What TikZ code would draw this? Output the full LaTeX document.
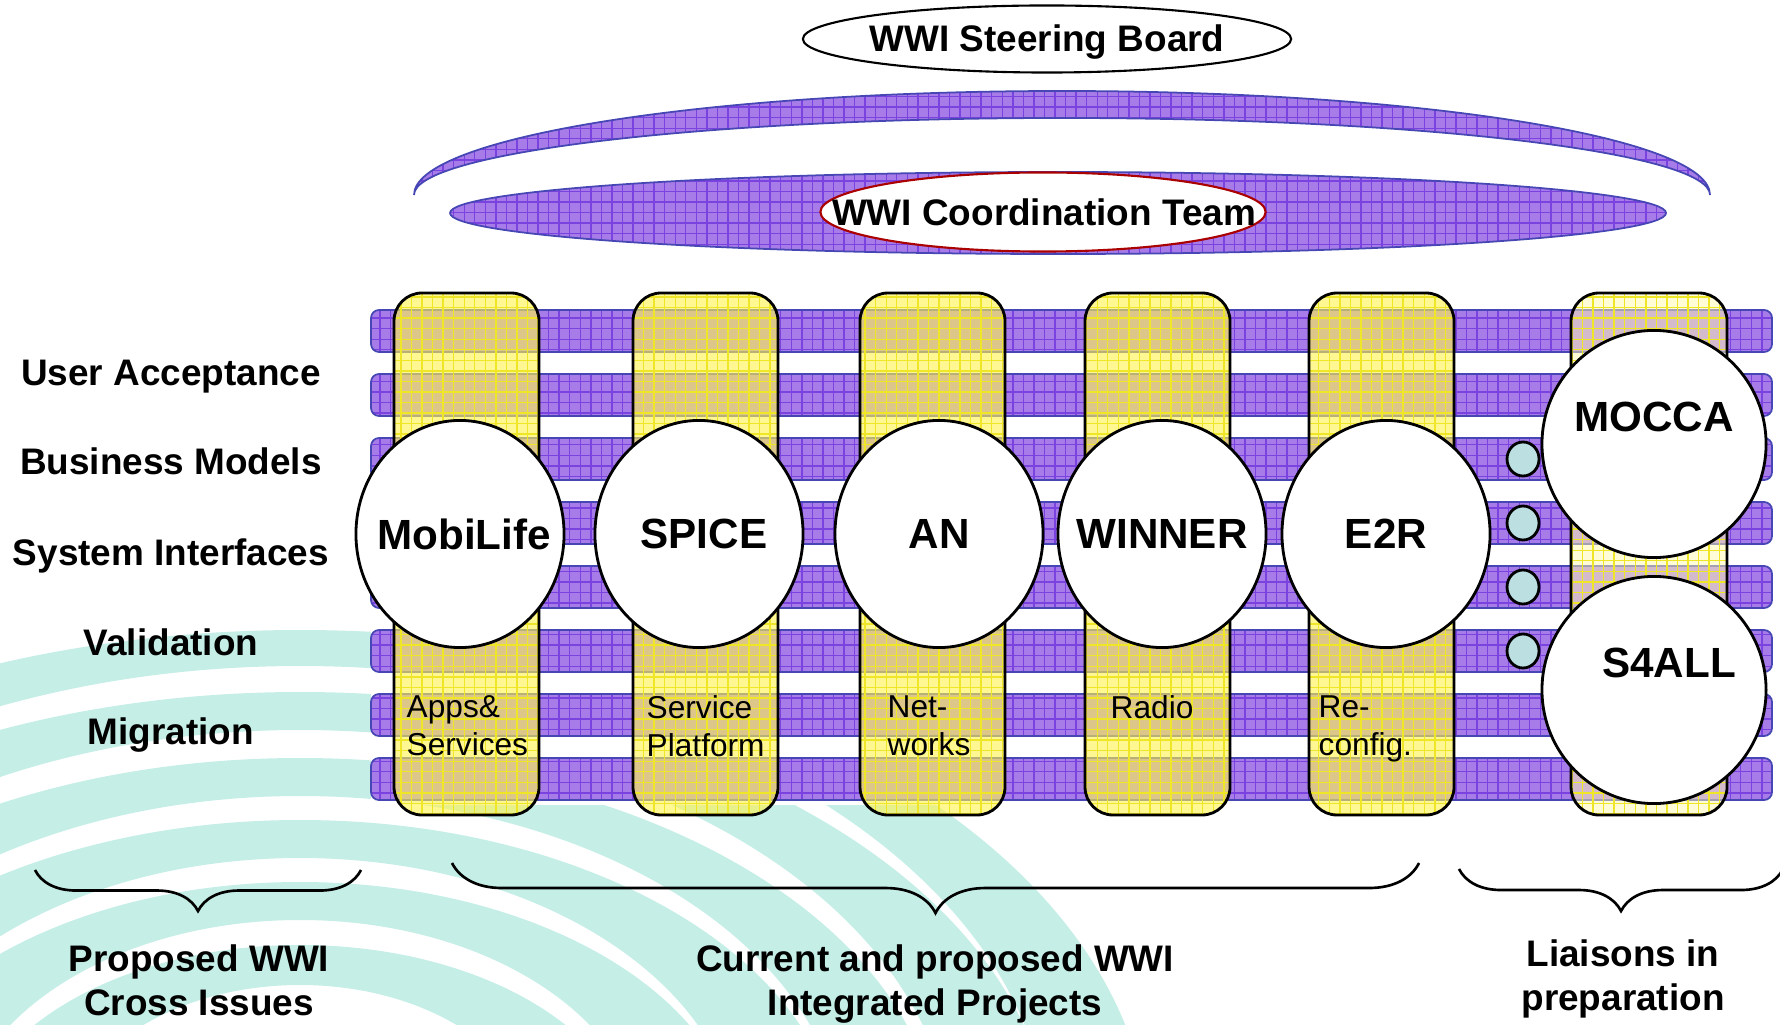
\documentclass[tikz,border=0pt]{standalone}
\usepackage{fontspec}
\setmainfont{Liberation Sans}
\usepackage{tikz}
\usetikzlibrary{
    shapes.geometric,
    patterns,
    decorations.pathreplacing
}
\definecolor{lilac}{RGB}{168,124,232}
\definecolor{lilacgrid}{RGB}{122,66,222}
\definecolor{lilacedge}{RGB}{70,70,180}
\definecolor{wpyellow}{RGB}{255,244,80}
\definecolor{wpgrid}{RGB}{240,230,40}
\definecolor{paleyellow}{RGB}{255,250,175}
\definecolor{swirlteal}{RGB}{196,238,230}
\definecolor{dotteal}{RGB}{188,224,226}
\definecolor{darkred}{RGB}{170,0,0}
\tikzstyle{lilacband} = [
    preaction={fill=lilac},
    preaction={pattern=grid, pattern color=lilacgrid},
    draw=lilacedge,
    line width=0.5pt
]
\tikzstyle{layerbar} = [
    lilacband,
    rounded corners=0.08cm
]
\tikzstyle{projcol} = [
    preaction={fill=wpyellow, fill opacity=0.62},
    preaction={pattern=grid, pattern color=wpgrid, fill opacity=0.4},
    draw=black,
    thick,
    rounded corners=0.28cm
]
\tikzstyle{liaisoncol} = [
    preaction={fill=paleyellow, fill opacity=0.5},
    preaction={pattern=grid, pattern color=wpgrid, fill opacity=0.3},
    draw=black,
    thick,
    rounded corners=0.28cm
]
\tikzstyle{projcirc} = [
    ellipse,
    draw=black,
    thick,
    fill=white,
    inner sep=0pt,
    minimum width=2.08cm,
    minimum height=2.27cm
]
\tikzstyle{liaisoncirc} = [
    projcirc,
    minimum width=2.24cm
]
\tikzstyle{bigname} = [
    inner sep=0pt,
    font=\fontsize{12}{14}\selectfont\bfseries
]
\tikzstyle{linkdot} = [
    ellipse,
    draw=black,
    thick,
    fill=dotteal,
    inner sep=0pt,
    minimum width=0.32cm,
    minimum height=0.34cm
]
\tikzstyle{headtext} = [
    anchor=base,
    inner sep=0pt,
    font=\fontsize{10.5}{12.6}\selectfont\bfseries
]
\tikzstyle{coltext} = [
    anchor=north west,
    inner sep=0pt,
    align=left,
    font=\fontsize{9}{10.8}\selectfont
]
\tikzstyle{sumlabel} = [
    anchor=north,
    inner sep=0pt,
    align=center,
    font=\fontsize{10.5}{12.5}\selectfont\bfseries
]
\tikzstyle{curly} = [
    decorate,
    decoration={brace, mirror},
    line width=0.75pt
]
\tikzstyle{swirl} = [
    fill=swirlteal,
    even odd rule
]

\begin{document}
\begin{tikzpicture}[x=0.01cm, y=-0.01cm]
        \useasboundingbox (0,0) rectangle (1780,1025);

        % Background swirl (watermark)
        \begin{scope}
            \clip (0,0) rectangle (1780,1025);
            \foreach \ax/\ay/\bx/\by in {850/520/750/484, 752/458/652/420, 640/392/545/354,
                    540/330/440/292, 440/268/345/230, 335/205/240/165} {
                \fill[swirl] (300,1150) ellipse [x radius=\ax, y radius=\ay]
                    (300,1150) ellipse [x radius=\bx, y radius=\by];
            }
        \end{scope}
        \fill[white] (371,300) rectangle (1772,805);

        % Steering board and coordination team
        \path[lilacband] (414,195) arc[start angle=180, end angle=360, x radius=648, y radius=104]
            arc[start angle=0, end angle=-180, x radius=648, y radius=77] -- cycle;
        \path[lilacband] (1058,213) ellipse [x radius=608, y radius=41];
        \node[ellipse, draw=darkred, line width=0.6pt, fill=white, inner sep=0pt,
            minimum width=4.45cm, minimum height=0.79cm] (team) at (1043,212) {};
        \node[headtext] (teamtext) at (1044,226) {WWI Coordination Team};
        \node[ellipse, draw=black, line width=0.6pt, inner sep=0pt,
            minimum width=4.88cm, minimum height=0.67cm] (board) at (1047,39) {};
        \node[headtext] (boardtext) at (1047,52) {WWI Steering Board};

        % Layer bars
        \foreach \i in {0,...,7} {
            \path[layerbar] (371,{310+64*\i}) rectangle (1772,{352+64*\i});
        }

        % Project columns
        \foreach \x in {394,633,860,1085,1309} {
            \path[projcol] (\x,293) rectangle ++(145,522);
        }
        \path[liaisoncol] (1571,293) rectangle (1727,815);

        % Liaison dots
        \foreach \i in {2,...,5} {
            \node[linkdot] (dot\i) at (1523,{331+64*\i}) {};
        }

        % Project circles
        \node[projcirc, label={[bigname, xshift=0.04cm]center:MobiLife}] (mobilife) at (460,534) {};
        \node[projcirc, label={[bigname, xshift=0.05cm]center:SPICE}] (spice) at (699,534) {};
        \node[projcirc, label={[bigname]center:AN}] (an) at (939,534) {};
        \node[projcirc, label={[bigname]center:WINNER}] (winner) at (1162,534) {};
        \node[projcirc, label={[bigname]center:E2R}] (etwor) at (1386,534) {};
        \node[liaisoncirc, label={[bigname, yshift=0.27cm]center:MOCCA}] (mocca) at (1654,444) {};
        \node[liaisoncirc, label={[bigname, xshift=0.15cm, yshift=0.27cm]center:S4ALL}] (sfourall) at (1654,690) {};

        % Column captions
        \node[coltext] (appstext) at (406,695) {Apps\&\\Services};
        \node[coltext] (platformtext) at (646,695) {Service\\Platform};
        \node[coltext] (networktext) at (887,695) {Net-\\works};
        \node[coltext] (radiotext) at (1110,695) {Radio};
        \node[coltext] (reconftext) at (1318,695) {Re-\\config.};

        % Layer labels
        \foreach \yb/\txt in {386/User Acceptance, 475/Business Models, 565/System Interfaces,
                655/Validation, 744/Migration} {
            \node[headtext] (layer\yb) at (171,\yb) {\txt};
        }

        % Braces and group captions
        \coordinate (crossL) at (35,870);
        \coordinate (crossR) at (361,870);
        \coordinate (ipL) at (452,863);
        \coordinate (ipR) at (1419,863);
        \coordinate (liaL) at (1459,869);
        \coordinate (liaR) at (1783,869);
        \draw[curly, decoration={amplitude=0.41cm}] (crossL) -- (crossR);
        \draw[curly, decoration={amplitude=0.50cm}] (ipL) -- (ipR);
        \draw[curly, decoration={amplitude=0.42cm}] (liaL) -- (liaR);
        \node[sumlabel] (crosstext) at (199,944) {Proposed WWI\\Cross Issues};
        \node[sumlabel] (iptext) at (935,944) {Current and proposed WWI\\Integrated Projects};
        \node[sumlabel] (liaisontext) at (1623,939) {Liaisons in\\preparation};
    \end{tikzpicture}
\end{document}
